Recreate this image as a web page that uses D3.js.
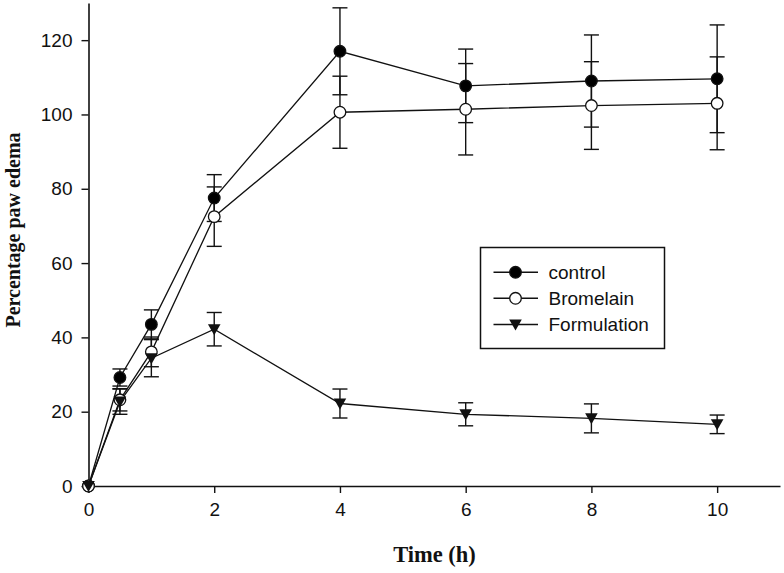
<!DOCTYPE html>
<html>
<head>
<meta charset="utf-8">
<script src="https://cdn.jsdelivr.net/npm/d3@7"></script>
<style>
  html, body { margin: 0; padding: 0; background: #fff; }
  svg { display: block; }
</style>
</head>
<body>
<svg id="chart" width="784" height="573"></svg>
<script>
const times = [0, 0.5, 1, 2, 4, 6, 8, 10];
const seriesNames = ["control", "Bromelain", "Formulation"];
const controlMean = [0, 29.2, 43.5, 77.5, 117.0, 107.7, 109.0, 109.6];
const controlErr  = [0, 2.3, 3.9, 6.3, 11.7, 9.9, 12.4, 14.5];
const bromelainMean = [0, 23.2, 36.1, 72.5, 100.6, 101.4, 102.4, 103.0];
const bromelainErr  = [0, 3.0, 4.0, 8.0, 9.7, 12.3, 11.8, 12.5];
const formulationMean = [0, 22.7, 34.4, 42.2, 22.2, 19.3, 18.2, 16.6];
const formulationErr  = [0, 3.4, 5.0, 4.5, 3.9, 3.1, 3.9, 2.5];
const xTicks = [0, 2, 4, 6, 8, 10];
const yTicks = [0, 20, 40, 60, 80, 100, 120];
const xTitle = "Time (h)";
const yTitle = "Percentage paw edema";

const series = [
  { name: seriesNames[0], mean: controlMean, err: controlErr, symbol: "circle", fill: "#000" },
  { name: seriesNames[1], mean: bromelainMean, err: bromelainErr, symbol: "circle", fill: "#fff" },
  { name: seriesNames[2], mean: formulationMean, err: formulationErr, symbol: "triangle", fill: "#000" }
];

const svg = d3.select("#chart");
const x = d3.scaleLinear().domain([0, 11]).range([88.5, 780]);
const y = d3.scaleLinear().domain([0, 130]).range([486, 3]);

const sansFont = "'Liberation Sans', Arial, sans-serif";
const serifFont = "'Liberation Serif', 'Times New Roman', serif";

// axes
const xAxis = svg.append("g").attr("transform", `translate(0,${y(0)})`)
  .call(d3.axisBottom(x).tickValues(xTicks).tickSize(7).tickSizeOuter(0).tickPadding(10));
const yAxis = svg.append("g").attr("transform", `translate(${x(0)},0)`)
  .call(d3.axisLeft(y).tickValues(yTicks).tickSize(7).tickSizeOuter(0).tickPadding(9));
[xAxis, yAxis].forEach(g => {
  g.select(".domain").attr("stroke", "#111").attr("stroke-width", 1.6);
  g.selectAll(".tick line").attr("stroke", "#111").attr("stroke-width", 1.4);
  g.selectAll(".tick text").attr("font-family", sansFont).attr("font-size", 19).attr("fill", "#111");
});

// axis titles
svg.append("text").attr("x", 434.5).attr("y", 562).attr("text-anchor", "middle")
  .attr("font-family", serifFont).attr("font-weight", "bold").attr("font-size", 22.5)
  .attr("fill", "#111").text(xTitle);
svg.append("text").attr("transform", `translate(20,230) rotate(-90)`)
  .attr("text-anchor", "middle")
  .attr("font-family", serifFont).attr("font-weight", "bold").attr("font-size", 20)
  .attr("fill", "#111").text(yTitle);

const triangle = (cx, cy, s) => `M${cx - s},${cy - s * 0.8} L${cx + s},${cy - s * 0.8} L${cx},${cy + s * 0.95} Z`;
const capW = 7.5;

series.forEach(s => {
  const pts = times.map((t, i) => ({ t, m: s.mean[i], e: s.err[i] }));
  const g = svg.append("g");
  // error bars
  pts.filter(p => p.e > 0).forEach(p => {
    const cx = x(p.t);
    g.append("line").attr("x1", cx).attr("x2", cx).attr("y1", y(p.m + p.e)).attr("y2", y(p.m - p.e))
      .attr("stroke", "#111").attr("stroke-width", 1.4);
    [p.m + p.e, p.m - p.e].forEach(v => {
      g.append("line").attr("x1", cx - capW).attr("x2", cx + capW).attr("y1", y(v)).attr("y2", y(v))
        .attr("stroke", "#111").attr("stroke-width", 1.4);
    });
  });
  // line
  g.append("path").datum(pts)
    .attr("d", d3.line().x(p => x(p.t)).y(p => y(p.m)))
    .attr("fill", "none").attr("stroke", "#111").attr("stroke-width", 1.3);
});

// markers on top
series.forEach(s => {
  const g = svg.append("g");
  times.forEach((t, i) => {
    const cx = x(t), cy = y(s.mean[i]);
    if (s.symbol === "circle") {
      g.append("circle").attr("cx", cx).attr("cy", cy).attr("r", 5.8)
        .attr("fill", s.fill).attr("stroke", "#111").attr("stroke-width", 1.3);
    } else {
      g.append("path").attr("d", triangle(cx, cy, 6.3)).attr("fill", "#111");
    }
  });
});

// legend
const leg = svg.append("g");
leg.append("rect").attr("x", 480.5).attr("y", 247.5).attr("width", 184).attr("height", 101)
  .attr("fill", "#fff").attr("stroke", "#111").attr("stroke-width", 1.5);
const legY = [272.3, 298.3, 324.5];
series.forEach((s, i) => {
  const ly = legY[i];
  leg.append("line").attr("x1", 493.5).attr("x2", 538).attr("y1", ly).attr("y2", ly)
    .attr("stroke", "#111").attr("stroke-width", 1.4);
  if (s.symbol === "circle") {
    leg.append("circle").attr("cx", 515.5).attr("cy", ly).attr("r", 5.8)
      .attr("fill", s.fill).attr("stroke", "#111").attr("stroke-width", 1.3);
  } else {
    leg.append("path").attr("d", triangle(515.5, ly, 6.3)).attr("fill", "#111");
  }
  leg.append("text").attr("x", 548.5).attr("y", ly).attr("dy", "0.36em")
    .attr("font-family", sansFont).attr("font-size", 19).attr("fill", "#111").text(s.name);
});
</script>
</body>
</html>
